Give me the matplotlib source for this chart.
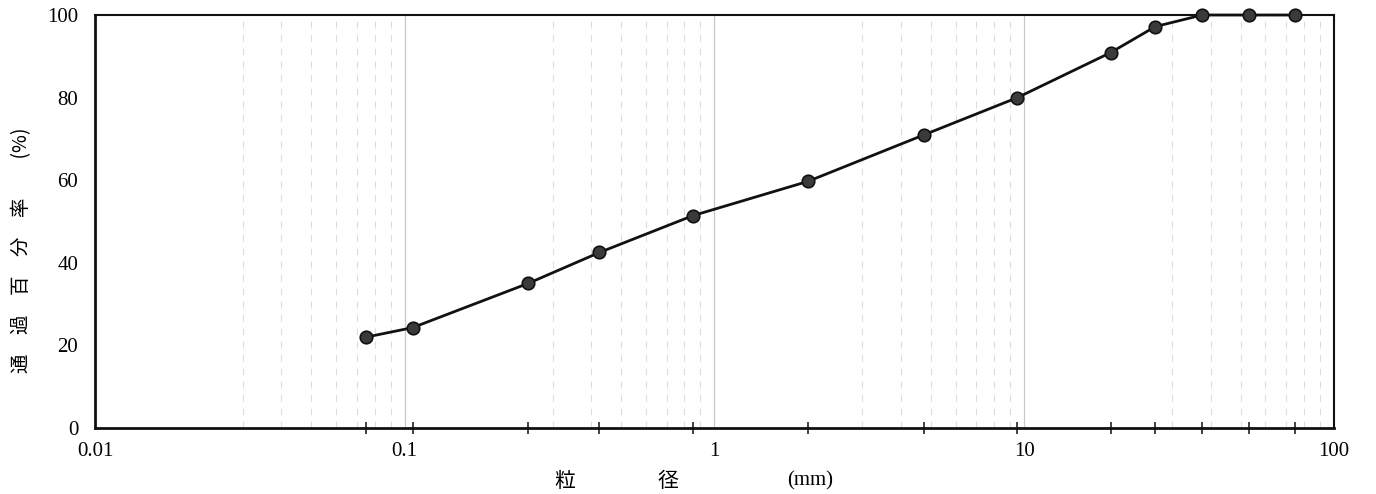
import matplotlib.pyplot as plt
import numpy as np

# sieve sizes (mm) and percent passing
sizes = [0.075, 0.106, 0.25, 0.425, 0.85, 2.0, 4.75, 9.5, 19.0, 26.5, 37.5, 53.0, 75.0]
passing = [22.0, 24.3, 35.0, 42.5, 51.4, 59.7, 71.0, 80.0, 90.9, 97.2, 100.0, 100.0, 100.0]

x_ticks = [0.01, 0.1, 1, 10, 100]
x_ticklabels = ['0.01', '0.1', '1', '10', '100']
y_ticks = [0, 20, 40, 60, 80, 100]

serif = ['Liberation Serif', 'DejaVu Serif']
cjk = ['Noto Sans CJK JP', 'DejaVu Sans']

fig = plt.figure(figsize=(13.76, 4.94), dpi=100)
ax = fig.add_axes([0.069, 0.1336, 0.9005, 0.836])

ax.set_xscale('log')
ax.set_xlim(0.01, 100)
ax.set_ylim(0, 100)

# faint dashed minor grid like the printed form
minor_grid = [m * 10.0 ** e for e in range(-2, 2) for m in range(3, 10)]
for v in minor_grid:
    ax.axvline(v, color='#dddddd', lw=0.8, ls=(0, (6, 6)), zorder=0)
for v in [0.1, 1, 10]:
    ax.axvline(v, color='#c8c8c8', lw=0.9, zorder=0)

ax.plot(sizes, passing, color='#111111', lw=2, marker='o', markersize=9,
        markerfacecolor='#3a3a3a', markeredgecolor='#111111', markeredgewidth=1.2,
        clip_on=False, zorder=3)

ax.set_xticks(x_ticks)
ax.set_xticklabels(x_ticklabels, family=serif, fontsize=15)
ax.set_xticks(sizes, minor=True)
ax.set_xticklabels([], minor=True)
ax.tick_params(axis='x', which='major', length=0, pad=10)
ax.tick_params(axis='x', which='minor', length=9, width=1.2, direction='inout', color='#222222')

ax.set_yticks(y_ticks)
ax.set_yticklabels([str(v) for v in y_ticks], family=serif, fontsize=15)
ax.tick_params(axis='y', length=0, pad=12)

for side in ['left', 'bottom']:
    ax.spines[side].set_linewidth(2)
for side in ['top', 'right']:
    ax.spines[side].set_linewidth(1.5)
for s in ax.spines.values():
    s.set_color('#111111')

# axis titles placed like the printed form
fig.text(565 / 1376, 1 - 481 / 494, '粒', family=cjk, fontsize=15, ha='center', va='center')
fig.text(668 / 1376, 1 - 481 / 494, '径', family=cjk, fontsize=15, ha='center', va='center')
fig.text(810 / 1376, 1 - 481 / 494, '(mm)', family=serif, fontsize=15, ha='center', va='center')
fig.text(22 / 1376, 1 - 250 / 494, '通　過　百　分　率　　(%)', family=cjk, fontsize=14,
         rotation=90, ha='center', va='center')

fig.savefig('out.png', dpi=100)
